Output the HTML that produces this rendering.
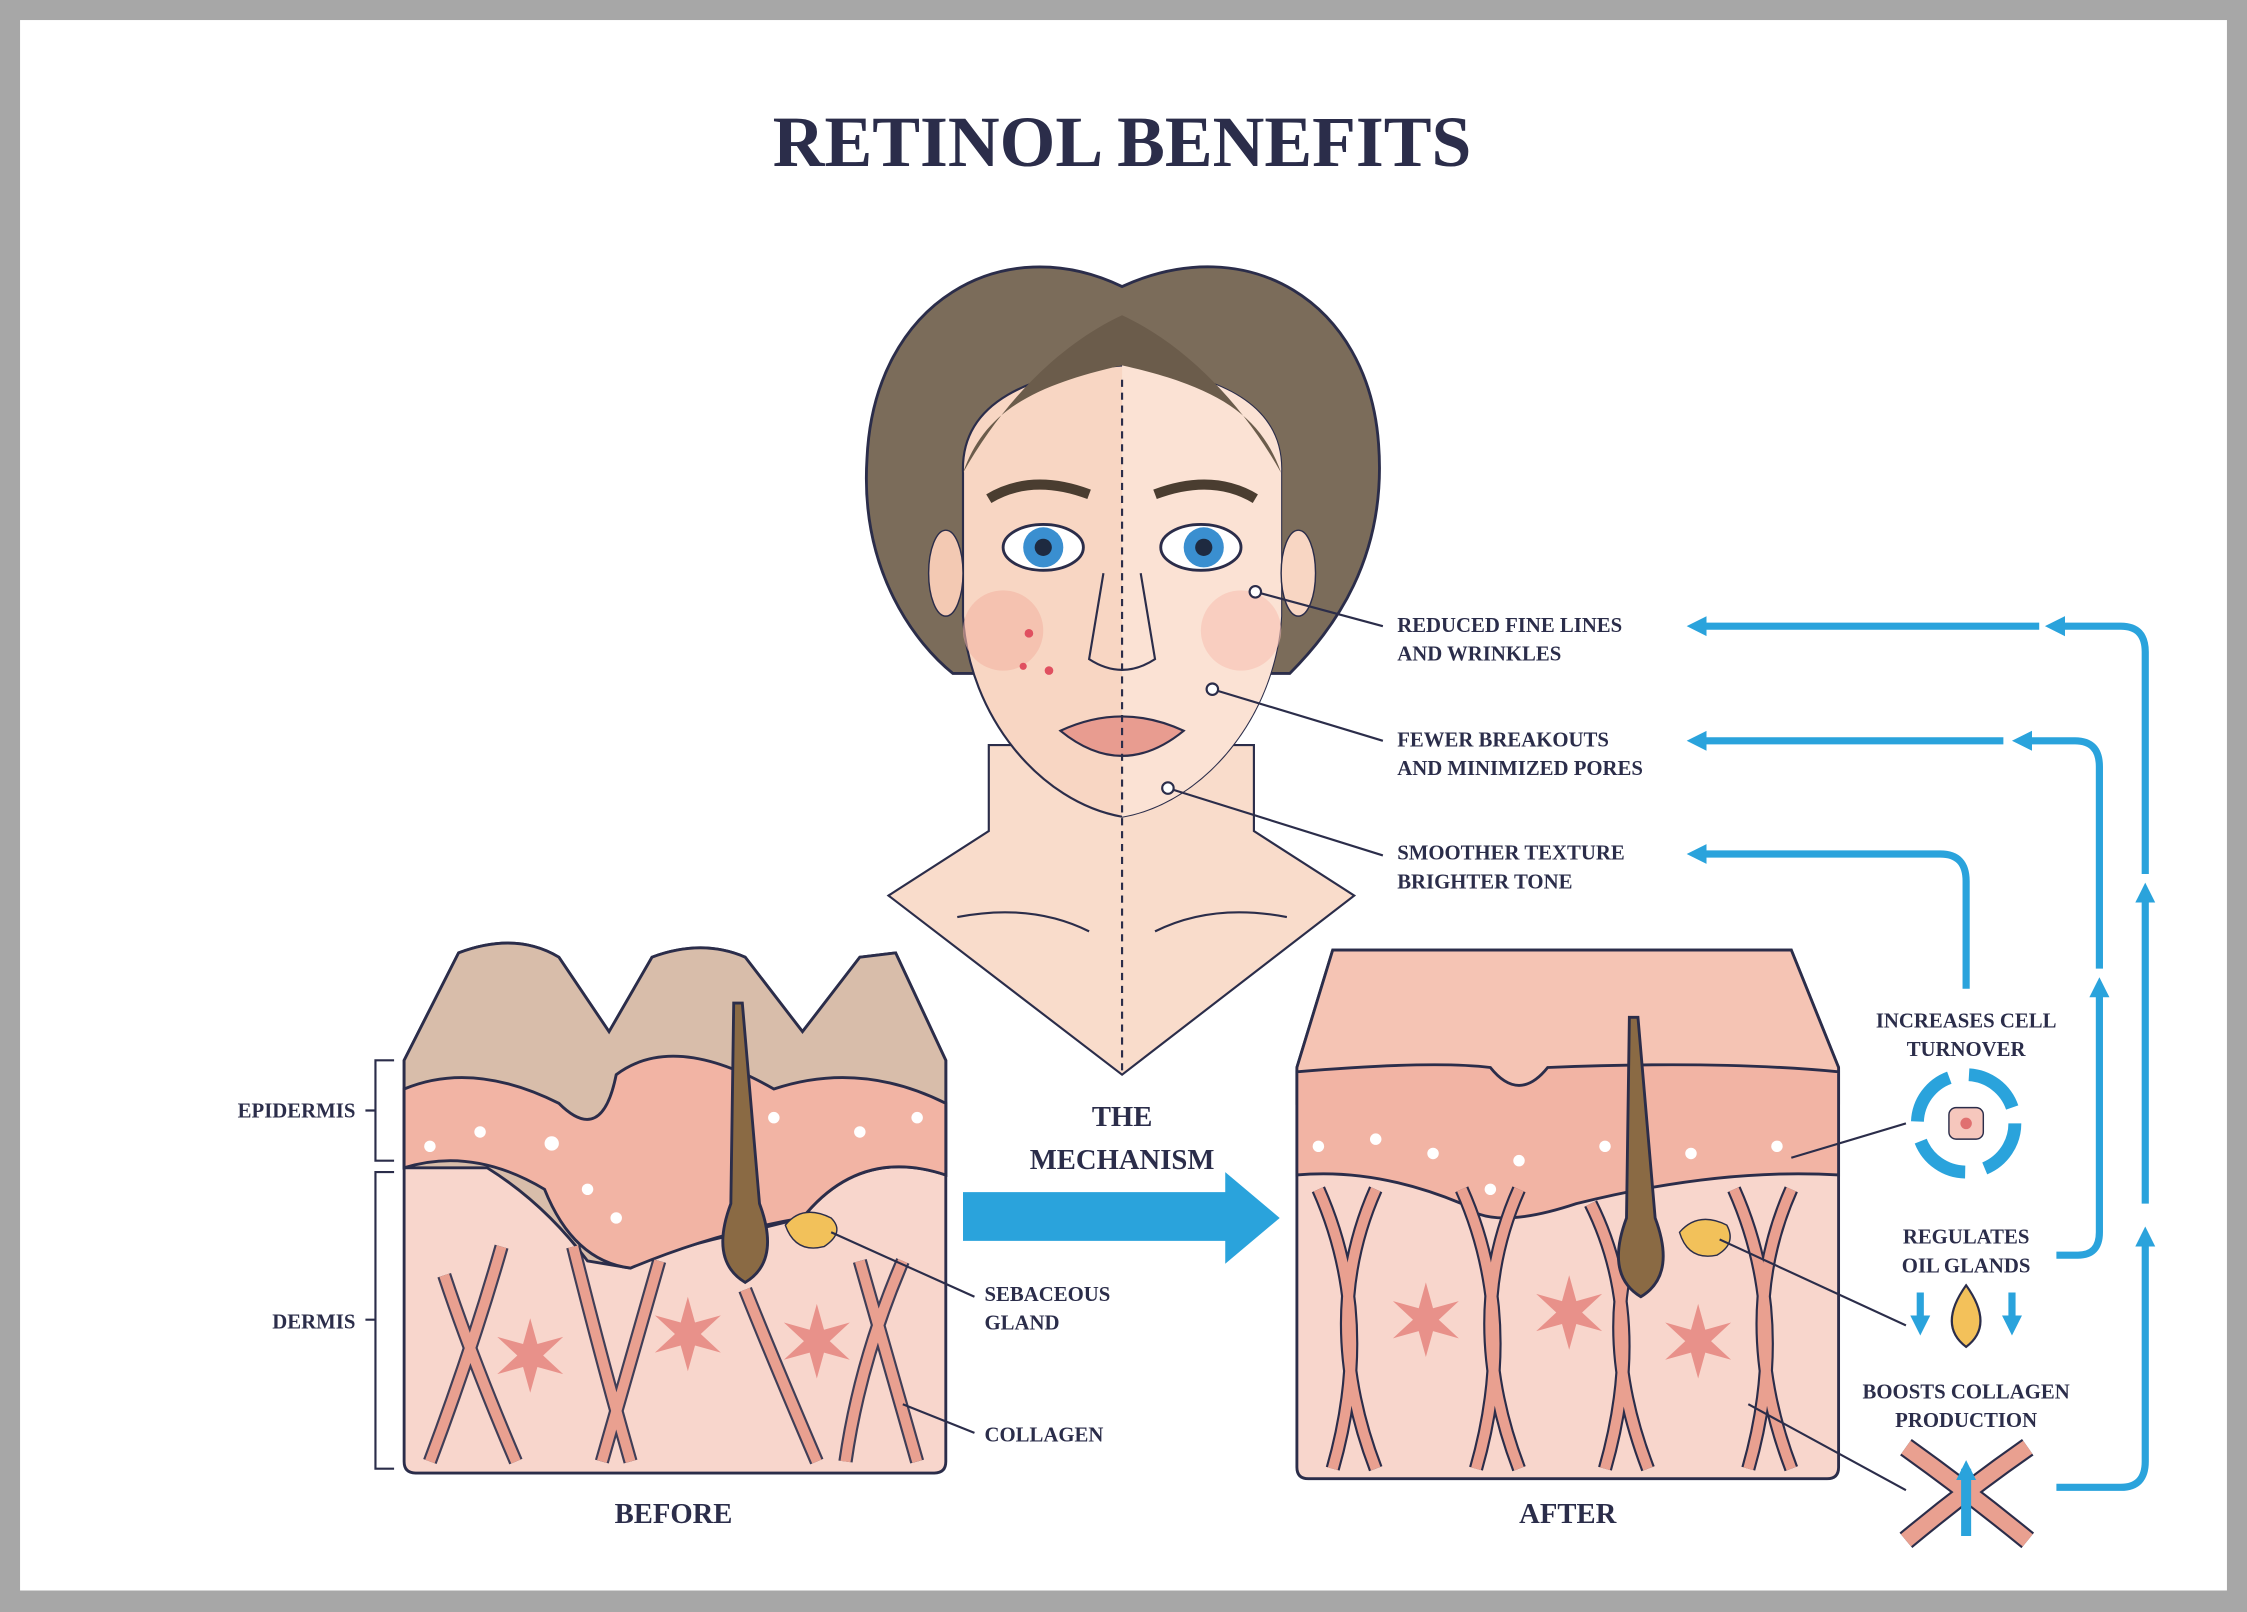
<!DOCTYPE html>
<html><head><meta charset="utf-8"><style>
html,body{margin:0;padding:0;background:#fff}
svg{display:block}
text{font-family:"Liberation Serif",serif;font-weight:bold;fill:#2b2d4a}
</style></head><body>
<svg width="2247" height="1612" viewBox="0 0 1568 1125" preserveAspectRatio="none" xmlns="http://www.w3.org/2000/svg">
<defs>
<marker id="ah" markerUnits="userSpaceOnUse" markerWidth="16" markerHeight="16" refX="8" refY="8" orient="auto"><path d="M0,1 L14,8 L0,15 z" fill="#2aa3dc"/></marker>
</defs>
<rect x="0" y="0" width="1568" height="1125" fill="#a7a7a7"/>
<rect x="14" y="14" width="1540" height="1096" fill="#fff"/>
<text x="783" y="116" font-size="50" text-anchor="middle">RETINOL BENEFITS</text>

<!-- neck -->
<path d="M690,520 L690,580 L620,625 L783,750 L945,625 L875,580 L875,520 Z" fill="#f9dccb" stroke="#2b2d4a" stroke-width="1.5"/>
<!-- hair -->
<path d="M783,200 C700,160 610,210 605,320 C600,400 640,450 665,470 L900,470 C930,440 968,390 962,310 C955,210 870,160 783,200 Z" fill="#7b6c5a" stroke="#2b2d4a" stroke-width="2"/>
<!-- face -->
<path d="M672,330 C670,280 720,260 783,255 C846,260 896,280 894,330 L894,430 C890,500 840,560 783,570 C726,560 676,500 672,430 Z" fill="#f8d6c3" stroke="#2b2d4a" stroke-width="1.5"/>
<path d="M783,255 C846,260 896,280 894,330 L894,430 C890,500 840,560 783,570 Z" fill="#fbe2d4"/>
<path d="M672,330 C700,280 740,240 783,220 C826,240 866,280 894,330 C880,290 850,270 783,255 C716,270 686,290 672,330Z" fill="#6b5c4b"/>
<ellipse cx="660" cy="400" rx="12" ry="30" fill="#f3c9b3" stroke="#2b2d4a"/>
<ellipse cx="906" cy="400" rx="12" ry="30" fill="#f8d6c3" stroke="#2b2d4a"/>
<circle cx="700" cy="440" r="28" fill="#f4b4a4" opacity=".6"/>
<circle cx="866" cy="440" r="28" fill="#f8c2b2" opacity=".6"/>
<path d="M690,348 Q720,330 760,345" stroke="#4a3d30" stroke-width="7" fill="none"/>
<path d="M806,345 Q846,330 876,348" stroke="#4a3d30" stroke-width="7" fill="none"/>
<ellipse cx="728" cy="382" rx="28" ry="16" fill="#fff" stroke="#2b2d4a" stroke-width="2"/>
<circle cx="728" cy="382" r="14" fill="#3a8fd0"/><circle cx="728" cy="382" r="6" fill="#1e2a40"/>
<ellipse cx="838" cy="382" rx="28" ry="16" fill="#fff" stroke="#2b2d4a" stroke-width="2"/>
<circle cx="840" cy="382" r="14" fill="#3a8fd0"/><circle cx="840" cy="382" r="6" fill="#1e2a40"/>
<path d="M770,400 L760,460 Q783,475 806,460 L796,400" fill="none" stroke="#2b2d4a" stroke-width="1.5"/>
<path d="M740,510 Q783,490 826,510 Q783,545 740,510 Z" fill="#e89c90" stroke="#2b2d4a" stroke-width="1.5"/>
<circle cx="718" cy="442" r="3" fill="#e05060"/><circle cx="732" cy="468" r="3" fill="#e05060"/><circle cx="714" cy="465" r="2.5" fill="#e05060"/>
<line x1="783" y1="265" x2="783" y2="750" stroke="#2b2d4a" stroke-width="1.5" stroke-dasharray="5,4"/>
<path d="M668,640 Q720,630 760,650 M806,650 Q846,630 898,640" stroke="#2b2d4a" fill="none" stroke-width="1.5"/>

<g stroke="#2b2d4a" stroke-width="1.5" fill="#fff">
<line x1="876" y1="413" x2="965" y2="437"/><circle cx="876" cy="413" r="4"/>
<line x1="846" y1="481" x2="965" y2="517"/><circle cx="846" cy="481" r="4"/>
<line x1="815" y1="550" x2="965" y2="597"/><circle cx="815" cy="550" r="4"/>
</g>
<text x="975" y="441" font-size="14.5">REDUCED FINE LINES</text>
<text x="975" y="461" font-size="14.5">AND WRINKLES</text>
<text x="975" y="521" font-size="14.5">FEWER BREAKOUTS</text>
<text x="975" y="541" font-size="14.5">AND MINIMIZED PORES</text>
<text x="975" y="600" font-size="14.5">SMOOTHER TEXTURE</text>
<text x="975" y="620" font-size="14.5">BRIGHTER TONE</text>

<g stroke="#2aa3dc" stroke-width="5" fill="none">
<path d="M1423,437 L1183,437" marker-end="url(#ah)"/>
<path d="M1435,1038 L1480,1038 Q1497,1038 1497,1020 L1497,862" marker-end="url(#ah)"/>
<path d="M1497,840 L1497,622" marker-end="url(#ah)"/>
<path d="M1497,610 L1497,455 Q1497,437 1480,437 L1433,437" marker-end="url(#ah)"/>
<path d="M1435,876 L1450,876 Q1465,876 1465,860 L1465,688" marker-end="url(#ah)"/>
<path d="M1465,676 L1465,535 Q1465,517 1448,517 L1410,517" marker-end="url(#ah)"/>
<path d="M1398,517 L1183,517" marker-end="url(#ah)"/>
<path d="M1372,690 L1372,615 Q1372,596 1354,596 L1183,596" marker-end="url(#ah)"/>
</g>
<text x="1372" y="717" font-size="14.5" text-anchor="middle">INCREASES CELL</text>
<text x="1372" y="737" font-size="14.5" text-anchor="middle">TURNOVER</text>
<circle cx="1372" cy="784" r="34" fill="none" stroke="#2aa3dc" stroke-width="9" stroke-dasharray="40,14"/>
<rect x="1360" y="773" width="24" height="22" rx="5" fill="#f6c7bd" stroke="#2b2d4a"/>
<circle cx="1372" cy="784" r="4" fill="#e07070"/>
<text x="1372" y="868" font-size="14.5" text-anchor="middle">REGULATES</text>
<text x="1372" y="888" font-size="14.5" text-anchor="middle">OIL GLANDS</text>
<path d="M1372,897 Q1392,925 1372,940 Q1352,925 1372,897Z" fill="#f3c15a" stroke="#2b2d4a" stroke-width="1.5"/>
<g stroke="#2aa3dc" stroke-width="5"><line x1="1340" y1="902" x2="1340" y2="926" marker-end="url(#ah)"/><line x1="1404" y1="902" x2="1404" y2="926" marker-end="url(#ah)"/></g>
<text x="1372" y="976" font-size="14.5" text-anchor="middle">BOOSTS COLLAGEN</text>
<text x="1372" y="996" font-size="14.5" text-anchor="middle">PRODUCTION</text>
<path d="M1330,1010 Q1372,1040 1415,1075 M1415,1010 Q1372,1040 1330,1075" stroke="#2b2d4a" stroke-width="14" fill="none"/>
<path d="M1330,1010 Q1372,1040 1415,1075 M1415,1010 Q1372,1040 1330,1075" stroke="#e9a090" stroke-width="11" fill="none"/>
<line x1="1372" y1="1072" x2="1372" y2="1025" stroke="#2aa3dc" stroke-width="7" marker-end="url(#ah)"/>

<!-- BEFORE block -->
<g stroke="#2b2d4a" stroke-width="2">
<path d="M282,1020 L282,740 L320,665 Q360,650 390,668 L425,720 L455,668 Q490,655 520,668 L560,720 L600,668 L625,665 L660,740 L660,1020 Q660,1028 652,1028 L290,1028 Q282,1028 282,1020Z" fill="#f8d6cc"/>
<path d="M282,740 L320,665 Q360,650 390,668 L425,720 L455,668 Q490,655 520,668 L560,720 L600,668 L625,665 L660,740 L660,820 Q600,800 560,850 L520,860 Q470,870 440,885 L410,880 Q380,840 340,815 L282,815Z" fill="#d8bdaa"/>
<path d="M282,760 Q330,740 390,770 Q420,800 430,750 Q470,720 540,760 Q600,740 660,770 L660,820 Q600,800 560,850 Q500,860 440,885 Q400,880 380,830 Q330,800 282,815Z" fill="#f2b4a4"/>
</g>
<g fill="#fff"><circle cx="300" cy="800" r="4"/><circle cx="335" cy="790" r="4"/><circle cx="385" cy="798" r="5"/><circle cx="540" cy="780" r="4"/><circle cx="600" cy="790" r="4"/><circle cx="640" cy="780" r="4"/><circle cx="430" cy="850" r="4"/><circle cx="410" cy="830" r="4"/></g>
<g stroke="#2b2d4a" stroke-width="10" fill="none" opacity=".9">
<path d="M310,890 Q330,950 360,1020 M350,870 Q330,940 300,1020 M400,870 Q420,950 440,1020 M460,880 Q440,950 420,1020 M520,900 Q540,950 570,1020 M600,880 Q620,950 640,1020 M630,880 Q600,950 590,1020"/>
</g>
<g stroke="#e9a090" stroke-width="7" fill="none">
<path d="M310,890 Q330,950 360,1020 M350,870 Q330,940 300,1020 M400,870 Q420,950 440,1020 M460,880 Q440,950 420,1020 M520,900 Q540,950 570,1020 M600,880 Q620,950 640,1020 M630,880 Q600,950 590,1020"/>
</g>
<path d="M370,920 l5,18 18,-5 -14,13 14,13 -18,-5 -5,18 -5,-18 -18,5 14,-13 -14,-13 18,5z" fill="#e8918a"/>
<path d="M480,905 l5,18 18,-5 -14,13 14,13 -18,-5 -5,18 -5,-18 -18,5 14,-13 -14,-13 18,5z" fill="#e8918a"/>
<path d="M570,910 l5,18 18,-5 -14,13 14,13 -18,-5 -5,18 -5,-18 -18,5 14,-13 -14,-13 18,5z" fill="#e8918a"/>
<path d="M512,700 L510,840 Q495,880 520,895 Q545,880 530,840 L518,700Z" fill="#8a6a44" stroke="#2b2d4a" stroke-width="2"/>
<path d="M548,855 Q560,840 580,850 Q590,860 575,870 Q555,875 548,855Z" fill="#f2c15a" stroke="#2b2d4a"/>
<g stroke="#2b2d4a" stroke-width="1.5" fill="none">
<path d="M275,740 L262,740 L262,810 L275,810 M262,775 L255,775"/>
<path d="M275,818 L262,818 L262,1025 L275,1025 M262,921 L255,921"/>
<line x1="580" y1="860" x2="680" y2="905"/><line x1="630" y1="980" x2="680" y2="1000"/>
</g>
<text x="248" y="780" font-size="14.5" text-anchor="end">EPIDERMIS</text>
<text x="248" y="927" font-size="14.5" text-anchor="end">DERMIS</text>
<text x="687" y="908" font-size="14.5">SEBACEOUS</text>
<text x="687" y="928" font-size="14.5">GLAND</text>
<text x="687" y="1006" font-size="14.5">COLLAGEN</text>
<text x="470" y="1063" font-size="20" text-anchor="middle">BEFORE</text>

<text x="783" y="786" font-size="20" text-anchor="middle">THE</text>
<text x="783" y="816" font-size="20" text-anchor="middle">MECHANISM</text>
<path d="M672,832 L855,832 L855,818 L893,850 L855,882 L855,866 L672,866Z" fill="#2aa3dc"/>

<!-- AFTER block -->
<g stroke="#2b2d4a" stroke-width="2">
<path d="M905,1024 L905,745 L930,663 L1250,663 L1283,745 L1283,1024 Q1283,1032 1275,1032 L913,1032 Q905,1032 905,1024Z" fill="#f8d6cc"/>
<path d="M905,745 L930,663 L1250,663 L1283,745 L1283,770 L905,770Z" fill="#f5c4b4"/>
<path d="M905,748 Q1000,740 1040,745 Q1060,770 1080,745 Q1200,740 1283,748 L1283,820 Q1200,815 1100,840 Q1040,860 1020,840 Q960,815 905,820Z" fill="#f2b4a4"/>
</g>
<g fill="#fff"><circle cx="920" cy="800" r="4"/><circle cx="960" cy="795" r="4"/><circle cx="1000" cy="805" r="4"/><circle cx="1060" cy="810" r="4"/><circle cx="1120" cy="800" r="4"/><circle cx="1180" cy="805" r="4"/><circle cx="1240" cy="800" r="4"/><circle cx="1040" cy="830" r="4"/></g>
<g stroke="#2b2d4a" stroke-width="10" fill="none">
<path d="M920,830 Q960,920 930,1025 M960,830 Q920,920 960,1025 M1020,830 Q1060,920 1030,1025 M1060,830 Q1020,920 1060,1025 M1110,840 Q1150,920 1120,1025 M1150,840 Q1110,920 1150,1025 M1210,830 Q1250,920 1220,1025 M1250,830 Q1210,920 1250,1025"/>
</g>
<g stroke="#e9a090" stroke-width="7" fill="none">
<path d="M920,830 Q960,920 930,1025 M960,830 Q920,920 960,1025 M1020,830 Q1060,920 1030,1025 M1060,830 Q1020,920 1060,1025 M1110,840 Q1150,920 1120,1025 M1150,840 Q1110,920 1150,1025 M1210,830 Q1250,920 1220,1025 M1250,830 Q1210,920 1250,1025"/>
</g>
<path d="M995,895 l5,18 18,-5 -14,13 14,13 -18,-5 -5,18 -5,-18 -18,5 14,-13 -14,-13 18,5z" fill="#e8918a"/>
<path d="M1095,890 l5,18 18,-5 -14,13 14,13 -18,-5 -5,18 -5,-18 -18,5 14,-13 -14,-13 18,5z" fill="#e8918a"/>
<path d="M1185,910 l5,18 18,-5 -14,13 14,13 -18,-5 -5,18 -5,-18 -18,5 14,-13 -14,-13 18,5z" fill="#e8918a"/>
<path d="M1137,710 L1135,850 Q1120,890 1145,905 Q1170,890 1155,850 L1143,710Z" fill="#8a6a44" stroke="#2b2d4a" stroke-width="2"/>
<path d="M1172,860 Q1185,845 1205,855 Q1212,868 1198,876 Q1178,880 1172,860Z" fill="#f2c15a" stroke="#2b2d4a"/>
<g stroke="#2b2d4a" stroke-width="1.5" fill="none">
<line x1="1250" y1="808" x2="1330" y2="784"/><line x1="1200" y1="865" x2="1330" y2="925"/><line x1="1220" y1="980" x2="1330" y2="1040"/>
</g>
<text x="1094" y="1063" font-size="20" text-anchor="middle">AFTER</text>
</svg>
</body></html>
